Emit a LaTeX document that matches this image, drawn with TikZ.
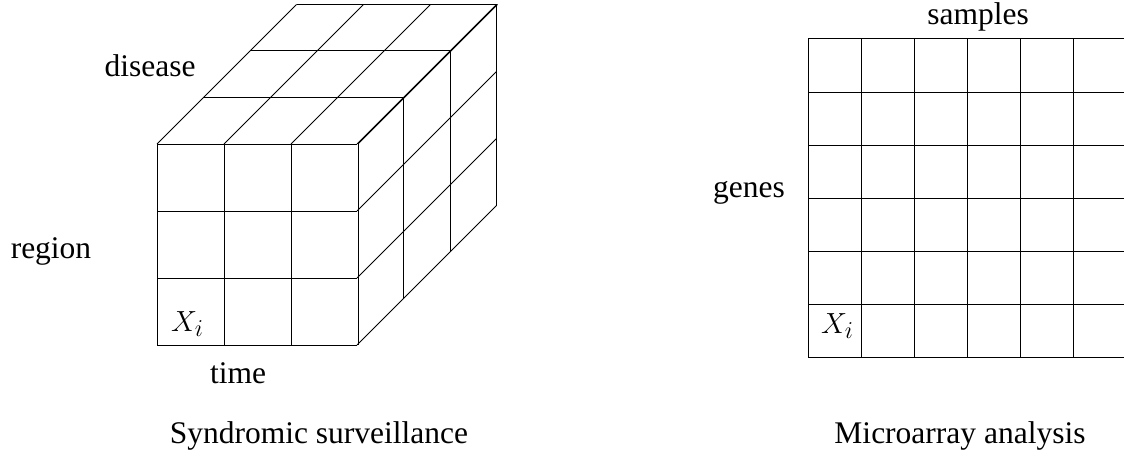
\documentclass[tikz,border=0pt]{standalone}
\usepackage{graphicx}
\usepackage{fontspec}
\setmainfont{Liberation Serif}
\begin{document}
\begin{tikzpicture}[x=1pt,y=-1pt,
  gridline/.style={line width=1pt,black},
  lbl/.style={anchor=base,inner sep=0pt,font=\fontsize{31.5}{36}\selectfont},
  cellmath/.style={anchor=base west,inner sep=0pt,font=\fontsize{24.88}{30}\selectfont}]
\useasboundingbox (0,0) rectangle (1124,460);
% ---- cube ----
\def\cs{67}
\def\dd{46.5}
\foreach \i in {0,1,2,3}{
  % front face
  \draw[gridline] (157,144+\i*\cs) -- (357,144+\i*\cs);
  \draw[gridline] (157+\i*\cs,144) -- (157+\i*\cs,345);
  % top diagonals
  \draw[gridline] (157+\i*\cs,144) -- ++(3*\dd,-3*\dd);
  % right diagonals
  \draw[gridline] (357,144+\i*\cs) -- ++(3*\dd,-3*\dd);
}
\foreach \k in {1,2,3}{
  \draw[gridline] (157+\k*\dd,144-\k*\dd) -- ++(200,0);
  \draw[gridline] (357+\k*\dd,144-\k*\dd) -- ++(0,201);
}
% ---- matrix ----
\foreach \i in {0,...,6}{
  \draw[gridline] (808,39+\i*53) -- (1124,39+\i*53);
}
\foreach \j in {0,...,5}{
  \draw[gridline] (808+\j*53,39) -- (808+\j*53,357);
}
% ---- labels ----
\node[lbl] (disease) at (150,77) {disease};
\node[lbl] (region) at (51,258) {region};
\node[lbl] (time) at (238,383) {time};
\node[lbl] (syn) at (319,443) {Syndromic surveillance};
\node[lbl] (samples) at (978,25) {samples};
\node[lbl] (genes) at (749,197) {genes};
\node[lbl] (micro) at (960,443) {Microarray analysis};
\node[cellmath] (xcube) at (171,331) {\scalebox{1.17}{$X_i$}};
\node[cellmath] (xgrid) at (821,333) {\scalebox{1.17}{$X_i$}};
\end{tikzpicture}
\end{document}
